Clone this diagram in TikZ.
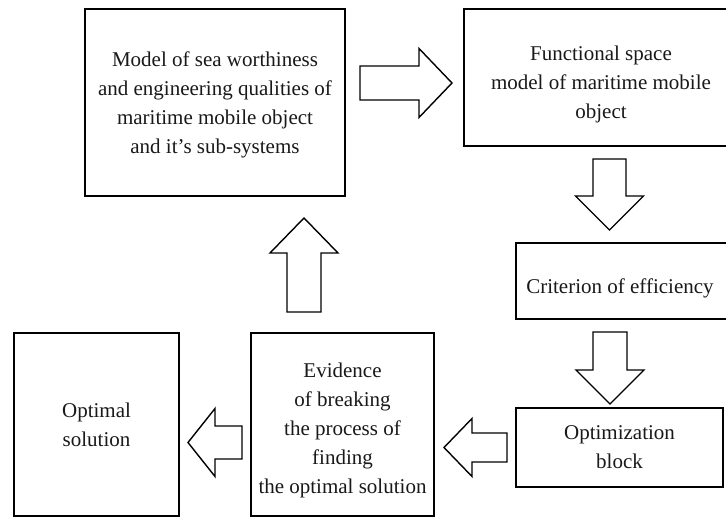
\documentclass[tikz,border=0pt]{standalone}
\usepackage{fontspec}
\setmainfont{Liberation Serif}
% Hollow block arrow: #1 tail centre, #2 direction (deg), #3 total length,
% #4 head length, #5 shaft half width, #6 head half width
\newcommand\BlockArrow[6]{%
  \draw[hollowarrow, shift={#1}, rotate=#2]
    (0,-#5) -- ({#3-#4},-#5) -- ({#3-#4},-#6) -- (#3,0)
    -- ({#3-#4},#6) -- ({#3-#4},#5) -- (0,#5) -- cycle;}
\begin{document}
\begin{tikzpicture}[x=1pt,y=-1pt,
  box/.style={draw, line width=1.6pt, inner sep=0pt},
  boxtext/.style={inner sep=0pt, align=center,
    font=\fontsize{21}{29}\selectfont, text=black!90},
  hollowarrow/.style={draw, line width=1.4pt, fill=white, line join=miter}]
\useasboundingbox (0,0) rectangle (726,518);
\clip (0,0) rectangle (726,518);
\fill[white] (0,0) rectangle (726,518);

% blocks
\node[box, minimum width=260pt, minimum height=187pt] (model) at (215,102.5) {};
\node[boxtext] (model-text) at (215,105)
  {Model of sea worthiness\\and engineering qualities of\\maritime mobile object\\and it’s sub-systems};
\node[box, minimum width=274pt, minimum height=137pt] (space) at (601,77.5) {};
\node[boxtext] (space-text) at (601,84.5)
  {Functional space\\model of maritime mobile\\object};
\node[box, minimum width=216pt, minimum height=76pt] (crit) at (624,281) {};
\node[boxtext] (crit-text) at (620,288) {Criterion of efficiency};
\node[box, minimum width=207pt, minimum height=79pt] (optim) at (619.5,447.5) {};
\node[boxtext] (optim-text) at (619.5,447.5) {Optimization\\block};
\node[box, minimum width=183pt, minimum height=183pt] (stop) at (342.5,424.5) {};
\node[boxtext] (stop-text) at (342.5,430.5)
  {Evidence\\of breaking\\the process of\\finding\\the optimal solution};
\node[box, minimum width=165pt, minimum height=183pt] (optimal) at (96.5,424.5) {};
\node[boxtext] (optimal-text) at (96.5,424.5) {Optimal\\solution};

% flow arrows
\BlockArrow{(360,83)}{0}{92}{33}{17}{34.5}
\BlockArrow{(609.5,159)}{-90}{71}{34}{16.5}{34}
\BlockArrow{(610,332)}{-90}{72}{34}{17}{34}
\BlockArrow{(507,447.5)}{180}{63}{28}{14.5}{29}
\BlockArrow{(242,442.5)}{180}{54}{27}{16.5}{34}
\BlockArrow{(304,312)}{90}{94}{35}{17}{34}
\end{tikzpicture}
\end{document}
